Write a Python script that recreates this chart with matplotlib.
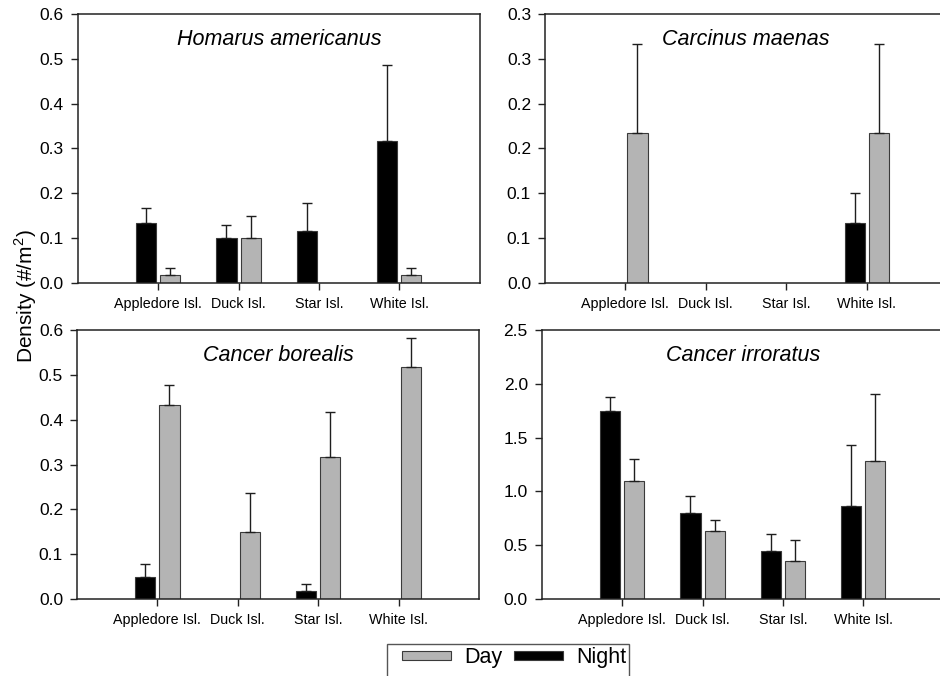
import numpy as np
import matplotlib
matplotlib.use("Agg")
import matplotlib.pyplot as plt
from matplotlib.patches import Patch, Rectangle

plt.rcParams["font.family"] = ["Liberation Sans", "DejaVu Sans"]
plt.rcParams["mathtext.fontset"] = "custom"
plt.rcParams["mathtext.rm"] = "Liberation Sans"

# ---- data ----
sites = ["Appledore Isl.", "Duck Isl.", "Star Isl.", "White Isl."]

species = ["Homarus americanus", "Carcinus maenas",
           "Cancer borealis", "Cancer irroratus"]

night_mean = [
    [0.133, 0.100, 0.117, 0.317],
    [0.0, 0.0, 0.0, 0.067],
    [0.050, 0.0, 0.017, 0.0],
    [1.750, 0.800, 0.450, 0.867],
]
night_err = [
    [0.034, 0.030, 0.061, 0.170],
    [0.0, 0.0, 0.0, 0.033],
    [0.029, 0.0, 0.017, 0.0],
    [0.130, 0.160, 0.154, 0.567],
]
day_mean = [
    [0.017, 0.100, 0.0, 0.017],
    [0.167, 0.0, 0.0, 0.167],
    [0.433, 0.150, 0.317, 0.517],
    [1.100, 0.633, 0.350, 1.283],
]
day_err = [
    [0.017, 0.050, 0.0, 0.017],
    [0.100, 0.0, 0.0, 0.100],
    [0.044, 0.086, 0.101, 0.066],
    [0.200, 0.100, 0.200, 0.625],
]

y_max = [0.6, 0.3, 0.6, 2.5]
y_ticks = [
    [0.0, 0.1, 0.2, 0.3, 0.4, 0.5, 0.6],
    [0.0, 0.05, 0.10, 0.15, 0.20, 0.25, 0.30],
    [0.0, 0.1, 0.2, 0.3, 0.4, 0.5, 0.6],
    [0.0, 0.5, 1.0, 1.5, 2.0, 2.5],
]
y_ticklabels = [
    ["0.0", "0.1", "0.2", "0.3", "0.4", "0.5", "0.6"],
    ["0.0", "0.1", "0.1", "0.2", "0.2", "0.3", "0.3"],
    ["0.0", "0.1", "0.2", "0.3", "0.4", "0.5", "0.6"],
    ["0.0", "0.5", "1.0", "1.5", "2.0", "2.5"],
]

DAY_C = "#b4b4b4"
NIGHT_C = "#000000"
EDGE = "#3a3a3a"

fig = plt.figure(figsize=(9.4, 6.76), dpi=100)

w, h = 0.4277, 0.3979
positions = [
    (0.0827, 0.5814),
    (0.5798, 0.5814),
    (0.0819, 0.1139),
    (0.5763, 0.1139),
]

x = np.arange(1, len(sites) + 1)
bw = 0.25
off = 0.15


def draw_bars(ax, xpos, mean, err, color):
    # zero-density bars are not drawn at all in the original
    mean = np.array(mean); err = np.array(err)
    keep = mean > 0
    ekw = dict(ecolor="#1e1e1e", elinewidth=1.0, capsize=3.6, capthick=1.0)
    ax.bar(xpos[keep], mean[keep], bw, color=color, edgecolor=EDGE,
           linewidth=0.8, yerr=[np.zeros(keep.sum()), err[keep]],
           error_kw=ekw, zorder=2)


for i, (l, b) in enumerate(positions):
    ax = fig.add_axes([l, b, w, h])
    draw_bars(ax, x - off, night_mean[i], night_err[i], NIGHT_C)
    draw_bars(ax, x + off, day_mean[i], day_err[i], DAY_C)
    ax.set_xlim(0, 5)
    ax.set_ylim(0, y_max[i])
    ax.set_xticks(x)
    ax.set_xticklabels(sites, fontsize=10.3)
    ax.set_yticks(y_ticks[i])
    ax.set_yticklabels(y_ticklabels[i], fontsize=12.5)
    ax.tick_params(axis="x", direction="out", length=5, width=1, pad=5,
                   color="#222222")
    ax.tick_params(axis="y", direction="out", length=5, width=1, pad=5,
                   color="#222222")
    for s in ax.spines.values():
        s.set_linewidth(1.1)
        s.set_color("#222222")
    ax.text(0.5, 0.905, species[i], transform=ax.transAxes, ha="center",
            va="center", fontsize=15.5, style="italic")

fig.text(0.027, 0.562, r"Density (#/m$^2$)", rotation=90, ha="center",
         va="center", fontsize=15)

# legend without its own frame; the frame runs off the bottom edge like the original
handles = [Patch(facecolor=DAY_C, edgecolor=EDGE, linewidth=0.8, label="Day"),
           Patch(facecolor=NIGHT_C, edgecolor=EDGE, linewidth=0.8, label="Night")]
fig.legend(handles=handles, loc="center left",
           bbox_to_anchor=(402 / 940, 1 - 658 / 676), ncol=2,
           fontsize=15.5, frameon=False, handlelength=2.28, handleheight=0.3,
           handletextpad=0.6, columnspacing=0.56, borderpad=0,
           borderaxespad=0)
fig.add_artist(Rectangle((387 / 940, -0.02), (629 - 387) / 940,
                         (1 - 644 / 676) + 0.02, transform=fig.transFigure,
                         fill=False, edgecolor="#555555", linewidth=1.0))

fig.savefig("out.png", dpi=100)
